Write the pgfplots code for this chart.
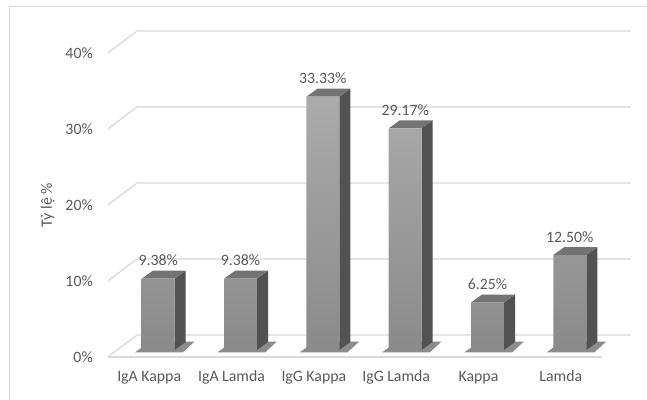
\documentclass[border=0pt]{standalone}
\usepackage{pgfplots}
\pgfplotsset{compat=1.18}
\usepackage{fontspec}
\setmainfont{Carlito}
\definecolor{txt}{HTML}{595959}
\definecolor{grid}{HTML}{D9D9D9}
\definecolor{frontT}{HTML}{ABABAB}
\definecolor{frontB}{HTML}{8A8A8A}
\definecolor{side}{HTML}{525252}
\definecolor{topf}{HTML}{737373}
\begin{document}
\begin{tikzpicture}
\useasboundingbox (0,0) rectangle (647pt,399pt);
\draw[grid, line width=0.8pt] (9pt,-5pt) -- (9pt,393pt) -- (660pt,393pt);
\begin{axis}[
  at={(117pt,49pt)}, anchor=south west,
  scale only axis, width=494pt, height=304pt,
  xmin=-0.5, xmax=5.5, ymin=0, ymax=40,
  clip=false,
  /pgf/number format/assume math mode=true,
  axis line style={draw=none},
  major tick length=0pt,
  xtick={0,1,2,3,4,5},
  xticklabels={IgA Kappa, IgA Lamda, IgG Kappa, IgG Lamda, Kappa, Lamda},
  ytick={0,10,20,30,40},
  yticklabel={\pgfmathprintnumber{\tick}\%},
  ticklabel style={font=\fontsize{15.8}{18}\selectfont, text=txt, inner sep=0pt},
  xticklabel style={anchor=base, yshift=-31pt, xshift=-9pt},
  yticklabel style={anchor=east, xshift=-24pt, yshift=-7pt},
  ylabel={Tỷ lệ \%},
  ylabel style={at={(rel axis cs:-0.14,0.477)}, anchor=center, font=\fontsize{15.8}{18}\selectfont, text=txt},
]
% floor and back wall gridlines
\draw[grid, line width=1.3pt] (axis cs:-0.61,-0.92) -- (axis cs:5.39,-0.92);
\draw[grid, line width=1.3pt] (axis cs:-0.61,-0.92) -- (axis cs:-0.257,1.97) -- (axis cs:5.743,1.97);
\draw[grid, line width=1.3pt] (axis cs:-0.61,9.08) -- (axis cs:-0.257,11.97) -- (axis cs:5.743,11.97);
\draw[grid, line width=1.3pt] (axis cs:-0.61,19.08) -- (axis cs:-0.257,21.97) -- (axis cs:5.743,21.97);
\draw[grid, line width=1.3pt] (axis cs:-0.61,29.08) -- (axis cs:-0.257,31.97) -- (axis cs:5.743,31.97);
\draw[grid, line width=1.3pt] (axis cs:-0.61,39.08) -- (axis cs:-0.257,41.97) -- (axis cs:5.743,41.97);
% floor shadows
\addplot[fill=black, fill opacity=0.45, draw=none] coordinates {(-0.28,-0.3) (0.3,-0.3) (0.44,1.1) (-0.1,1.1)} --cycle;
\addplot[fill=black, fill opacity=0.45, draw=none] coordinates {(0.72,-0.3) (1.3,-0.3) (1.44,1.1) (0.9,1.1)} --cycle;
\addplot[fill=black, fill opacity=0.45, draw=none] coordinates {(1.72,-0.3) (2.3,-0.3) (2.44,1.1) (1.9,1.1)} --cycle;
\addplot[fill=black, fill opacity=0.45, draw=none] coordinates {(2.72,-0.3) (3.3,-0.3) (3.44,1.1) (2.9,1.1)} --cycle;
\addplot[fill=black, fill opacity=0.45, draw=none] coordinates {(3.72,-0.3) (4.3,-0.3) (4.44,1.1) (3.9,1.1)} --cycle;
\addplot[fill=black, fill opacity=0.45, draw=none] coordinates {(4.72,-0.3) (5.3,-0.3) (5.44,1.1) (4.9,1.1)} --cycle;
% side faces
\addplot[fill=side, draw=none] coordinates {(0.2,0) (0.334,1.05) (0.334,10.43) (0.2,9.38)} --cycle;
\addplot[fill=side, draw=none] coordinates {(1.2,0) (1.334,1.05) (1.334,10.43) (1.2,9.38)} --cycle;
\addplot[fill=side, draw=none] coordinates {(2.2,0) (2.334,1.05) (2.334,34.38) (2.2,33.33)} --cycle;
\addplot[fill=side, draw=none] coordinates {(3.2,0) (3.334,1.05) (3.334,30.22) (3.2,29.17)} --cycle;
\addplot[fill=side, draw=none] coordinates {(4.2,0) (4.334,1.05) (4.334,7.30) (4.2,6.25)} --cycle;
\addplot[fill=side, draw=none] coordinates {(5.2,0) (5.334,1.05) (5.334,13.55) (5.2,12.5)} --cycle;
% top faces
\addplot[fill=topf, draw=none] coordinates {(-0.2,9.38) (0.2,9.38) (0.334,10.43) (-0.066,10.43)} --cycle;
\addplot[fill=topf, draw=none] coordinates {(0.8,9.38) (1.2,9.38) (1.334,10.43) (0.934,10.43)} --cycle;
\addplot[fill=topf, draw=none] coordinates {(1.8,33.33) (2.2,33.33) (2.334,34.38) (1.934,34.38)} --cycle;
\addplot[fill=topf, draw=none] coordinates {(2.8,29.17) (3.2,29.17) (3.334,30.22) (2.934,30.22)} --cycle;
\addplot[fill=topf, draw=none] coordinates {(3.8,6.25) (4.2,6.25) (4.334,7.30) (3.934,7.30)} --cycle;
\addplot[fill=topf, draw=none] coordinates {(4.8,12.5) (5.2,12.5) (5.334,13.55) (4.934,13.55)} --cycle;
% front faces
\addplot[ybar, bar width=0.4, draw=none, top color=frontT, bottom color=frontB,
  nodes near coords={\pgfmathprintnumber[fixed,fixed zerofill,precision=2]{\pgfplotspointmeta}\%},
  every node near coord/.style={anchor=base, inner sep=0pt, yshift=13pt, font=\fontsize{15.8}{18}\selectfont, text=txt}]
  coordinates {(0,9.38) (1,9.38) (2,33.33) (3,29.17) (4,6.25) (5,12.50)};
\end{axis}
\end{tikzpicture}
\end{document}
